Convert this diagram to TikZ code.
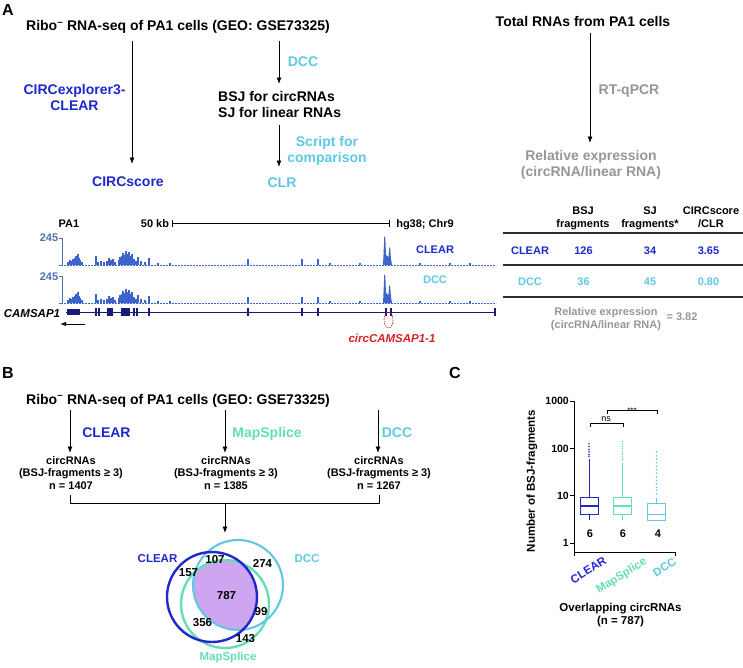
\documentclass[tikz,border=0pt]{standalone}
\usepackage{fontspec}
\setmainfont{Liberation Sans}
\usetikzlibrary{arrows.meta}

\definecolor{clearblue}{RGB}{30,40,205}
\definecolor{dccblue}{RGB}{95,200,228}
\definecolor{mapgreen}{RGB}{100,222,180}
\definecolor{relgray}{RGB}{150,150,150}
\definecolor{trackblue}{RGB}{60,100,205}
\definecolor{axisblue}{RGB}{80,110,180}
\definecolor{genenavy}{RGB}{25,25,120}
\definecolor{circred}{RGB}{215,35,35}
\definecolor{vennpurple}{RGB}{205,165,240}
\definecolor{rulegray}{RGB}{45,45,45}

\newcommand{\trackpeaks}{68/3,70/5,71/4,73/6,75/7,76/9,77/8,78/11,79/7,80/5,82/3,96/9,98/3,101/4,104/3,107/4,109/7,111/5,113/6,115/3,119/5,120/8,122/9,123/12,125/10,126/14,128/11,129/13,131/9,132/11,134/6,136/4,138/8,141/4,145/3,149/7,158/2,170/2,248/6,302/6,318/6,330/2,360/2,420/2,450/2,470/2}

\begin{document}
\begin{tikzpicture}[x=1pt, y=-1pt,
    arrow/.style={-{Latex[length=6.5pt,width=5pt]}, line width=0.8pt},
    txt/.style={inner sep=0pt, anchor=base, align=center},
    letter/.style={txt, font=\bfseries\fontsize{16}{18}\selectfont},
    big/.style={txt, font=\bfseries\fontsize{14}{15.5}\selectfont},
    mid/.style={txt, font=\bfseries\fontsize{11}{13}\selectfont},
    tbl/.style={txt, font=\bfseries\fontsize{11}{12.5}\selectfont},
    venn/.style={txt, font=\bfseries\fontsize{11.5}{13}\selectfont},
    axnum/.style={inner sep=0pt, font=\bfseries\fontsize{10.5}{12}\selectfont},
    cat/.style={inner sep=0pt, font=\bfseries\fontsize{11.5}{13}\selectfont},
    rule/.style={rulegray, line width=1.2pt},
    declare function={ly(\v)=543-47.3*log10(\v);}
]
\useasboundingbox (0,0) rectangle (743,667);

% ---------------- A: workflow ----------------
\node[letter] (pA) at (8,15) {A};
\node[big] (ribo) at (178,30.5) {Ribo\textsuperscript{--} RNA-seq of PA1 cells (GEO: GSE73325)};

% multi-line nodes sit on the baseline of their last line
\node[big, clearblue] (explorer) at (74.5,110) {CIRCexplorer3-\\CLEAR};
\node[big, clearblue] (score) at (128,186) {CIRCscore};
\coordinate (l1) at (132,41);
\coordinate (l2) at (132,164);
\draw[arrow] (l1) -- (l2);

\node[big, dccblue] (dccA) at (303,66) {DCC};
\node[big, anchor=base west, align=left] (bsj) at (218,117) {BSJ for circRNAs\\SJ for linear RNAs};
\node[big, dccblue] (script) at (327,162) {Script for\\comparison};
\node[big, dccblue] (clr) at (282,187) {CLR};
\coordinate (m1) at (279,41);
\coordinate (m2) at (279,84);
\coordinate (m3) at (279,125);
\coordinate (m4) at (279,167);
\draw[arrow] (m1) -- (m2);
\draw[arrow] (m3) -- (m4);

\node[big] (total) at (583,26) {Total RNAs from PA1 cells};
\node[big, relgray] (qpcr) at (629,94) {RT-qPCR};
\node[big, relgray] (relA) at (591,176) {Relative expression\\(circRNA/linear RNA)};
\coordinate (r1) at (590,33);
\coordinate (r2) at (590,143);
\draw[arrow] (r1) -- (r2);

% ---------------- A: genome browser ----------------
\node[mid] (pa1) at (69,227) {PA1};
\node[mid] (kb) at (155,227) {50 kb};
\node[mid] (hg) at (425,227) {hg38; Chr9};
\coordinate (sb1) at (172,223);
\coordinate (sb2) at (390,223);
\draw[line width=0.8pt, {Bar[width=7pt]}-{Bar[width=7pt]}] (sb1) -- (sb2);

\foreach \yb/\ylab in {265/241, 303/280} {
  \node[mid, axisblue] (scale\yb) at (49,\ylab) {245};
  \draw[axisblue, line width=0.7pt] (59,{\yb-27}) -- (62,{\yb-27}) -- (62,\yb) -- (59,\yb);
  \draw[trackblue, line width=0.5pt, dash pattern=on 2pt off 1pt] (64,\yb) -- (496,\yb);
  \foreach \px/\ph in \trackpeaks
    \fill[trackblue] ({\px-0.6},\yb) rectangle ({\px+0.6},{\yb-\ph});
  \fill[trackblue] (383,\yb) -- (383.5,{\yb-10}) -- (384.3,{\yb-29}) -- (385.3,{\yb-27})
    -- (386,{\yb-10}) -- (388.5,{\yb-8}) -- (389.3,{\yb-18}) -- (390.2,{\yb-16})
    -- (391,{\yb-6}) -- (392,\yb) -- cycle;
}
\node[mid, clearblue] (trk1) at (435,253) {CLEAR};
\node[mid, dccblue] (trk2) at (435,283) {DCC};

% gene model
\node[txt, font=\bfseries\itshape\fontsize{11.5}{13}\selectfont] (camsap) at (32,317) {CAMSAP1};
\draw[genenavy, line width=1pt] (66,312) -- (495,312);
\fill[genenavy] (67,309) rectangle (80,315);
\fill[genenavy] (121,308) rectangle (130,316);
\foreach \ex in {96,99,108,110,112,134,137,149,248,302,318,386,391,495}
  \fill[genenavy] ({\ex-0.6},308) rectangle ({\ex+0.6},316);
\coordinate (g1) at (85,324);
\coordinate (g2) at (60,324);
\draw[line width=1pt, -{Latex[length=6pt,width=4.5pt]}] (g1) -- (g2);
\draw[circred, line width=0.7pt, dash pattern=on 1.5pt off 1pt] (388.5,320) ellipse [x radius=4.5, y radius=8];
\node[txt, circred, font=\bfseries\itshape\fontsize{11.5}{13}\selectfont] (circlbl) at (392,342) {circCAMSAP1-1};

% ---------------- A: table ----------------
\node[tbl] (h1) at (583,227) {BSJ\\fragments};
\node[tbl] (h2) at (650,227) {SJ\\fragments*};
\node[tbl] (h3) at (711,227) {CIRCscore\\/CLR};
\draw[rule] (503,233) -- (743,233);
\node[tbl, clearblue] (rowC) at (530,254) {CLEAR};
\node[tbl, clearblue] (c1) at (583.5,254) {126};
\node[tbl, clearblue] (c2) at (650,254) {34};
\node[tbl, clearblue] (c3) at (708.5,254) {3.65};
\draw[rule] (503,265) -- (743,265);
\node[tbl, dccblue] (rowD) at (530,285) {DCC};
\node[tbl, dccblue] (d1) at (583.5,285) {36};
\node[tbl, dccblue] (d2) at (650,285) {45};
\node[tbl, dccblue] (d3) at (708.5,285) {0.80};
\draw[rule] (503,297) -- (743,297);
\node[tbl, relgray] (relB) at (606,328) {Relative expression\\(circRNA/linear RNA)};
\node[tbl, relgray] (ratio) at (682,320) {= 3.82};

% ---------------- B ----------------
\node[letter] (pB) at (8,378) {B};
\node[big] (riboB) at (178,404) {Ribo\textsuperscript{--} RNA-seq of PA1 cells (GEO: GSE73325)};
\node[big, clearblue] (mC) at (106.5,437) {CLEAR};
\node[big, mapgreen] (mM) at (267,437) {MapSplice};
\node[big, dccblue] (mD) at (397,437) {DCC};
\foreach \ax in {70,225,378} {
  \coordinate (bt\ax) at (\ax,410);
  \coordinate (bb\ax) at (\ax,453);
  \draw[arrow] (bt\ax) -- (bb\ax);
}
\node[tbl] (nC) at (71,489) {circRNAs\\(BSJ-fragments ≥ 3)\\n = 1407};
\node[tbl] (nM) at (226,489) {circRNAs\\(BSJ-fragments ≥ 3)\\n = 1385};
\node[tbl] (nD) at (379,489) {circRNAs\\(BSJ-fragments ≥ 3)\\n = 1267};
\draw[line width=0.8pt] (70,495) -- (70,503) -- (379,503) -- (379,495);
\coordinate (j1) at (225,503);
\coordinate (j2) at (225,533);
\draw[arrow] (j1) -- (j2);

% Venn diagram
\begin{scope}
  \clip (212,597) circle (45);
  \clip (238,585) circle (45);
  \fill[vennpurple] (225,604) circle (44);
\end{scope}
\draw[mapgreen, line width=2.4pt] (225,604) circle (44);
\draw[dccblue, line width=2.1pt] (238,585) circle (45);
\draw[clearblue, line width=2.4pt] (212,597) circle (45);
\node[venn, clearblue] (vC) at (157.5,562) {CLEAR};
\node[venn, dccblue] (vD) at (307,562) {DCC};
\node[venn, mapgreen] (vM) at (228,660) {MapSplice};
\node[venn] (v157) at (188.5,576) {157};
\node[venn] (v107) at (215,563) {107};
\node[venn] (v274) at (262.5,567) {274};
\node[venn] (v787) at (226.5,599) {787};
\node[venn] (v99) at (261,615) {99};
\node[venn] (v356) at (202.5,626) {356};
\node[venn] (v143) at (245.5,642) {143};

% ---------------- C ----------------
\node[letter] (pC) at (455,378) {C};
\draw[line width=0.9pt] (574,401) -- (574,552) -- (675,552);
\draw[line width=0.9pt] (675,552) -- (675,556);
\draw[line width=0.9pt] (574,552) -- (574,556);
\foreach \v in {1,10,100,1000} {
  \node[axnum, anchor=east] (tick\v) at (569,{ly(\v)}) {\v};
  \draw[line width=0.9pt] (570,{ly(\v)}) -- (574,{ly(\v)});
}
\node[axnum, rotate=90, font=\bfseries\fontsize{11.5}{13}\selectfont] (ylab) at (532,481) {Number of BSJ-fragments};

\foreach \cx/\qa/\md/\qb/\lo/\hi/\col/\dots in {
    589/4/6/9/3/60/clearblue/{68,75,85,95,110,126},
    622.5/4/6/9/3/50/mapgreen/{58,66,75,85,97,110,125,140},
    656.5/3/4/7/3/9/dccblue/{11,13,15,18,21,25,30,36,42,50,60,70,85}} {
  \draw[\col, line width=1pt] ({\cx-9},{ly(\qa)}) rectangle ({\cx+9},{ly(\qb)});
  \draw[\col, line width=1.6pt] ({\cx-9},{ly(\md)}) -- ({\cx+9},{ly(\md)});
  \draw[\col, line width=1pt] (\cx,{ly(\qb)}) -- (\cx,{ly(\hi)});
  \draw[\col, line width=1pt] (\cx,{ly(\qa)}) -- (\cx,{ly(\lo)});
  \foreach \d in \dots
    \fill[\col] (\cx,{ly(\d)}) circle (0.9);
}
\node[tbl] (med1) at (590,537) {6};
\node[tbl] (med2) at (623,537) {6};
\node[tbl] (med3) at (658,537) {4};

\draw[line width=0.6pt] (590,427) -- (590,423) -- (623,423) -- (623,427);
\node[txt, font=\fontsize{9}{10}\selectfont] (ns) at (606,421.5) {ns};
\draw[line width=0.6pt] (607,414) -- (607,410) -- (657,410) -- (657,414);
\node[txt, font=\fontsize{8}{9}\selectfont] (sig) at (632,413) {***};

\node[cat, clearblue, rotate=32, anchor=north east] (cat1) at (603,556) {CLEAR};
\node[cat, mapgreen, rotate=32, anchor=north east] (cat2) at (643,556) {MapSplice};
\node[cat, dccblue, rotate=32, anchor=north east] (cat3) at (673,557) {DCC};
\node[txt, font=\bfseries\fontsize{11.5}{13}\selectfont] (overlap) at (620.5,624) {Overlapping circRNAs\\(n = 787)};

\end{tikzpicture}
\end{document}
